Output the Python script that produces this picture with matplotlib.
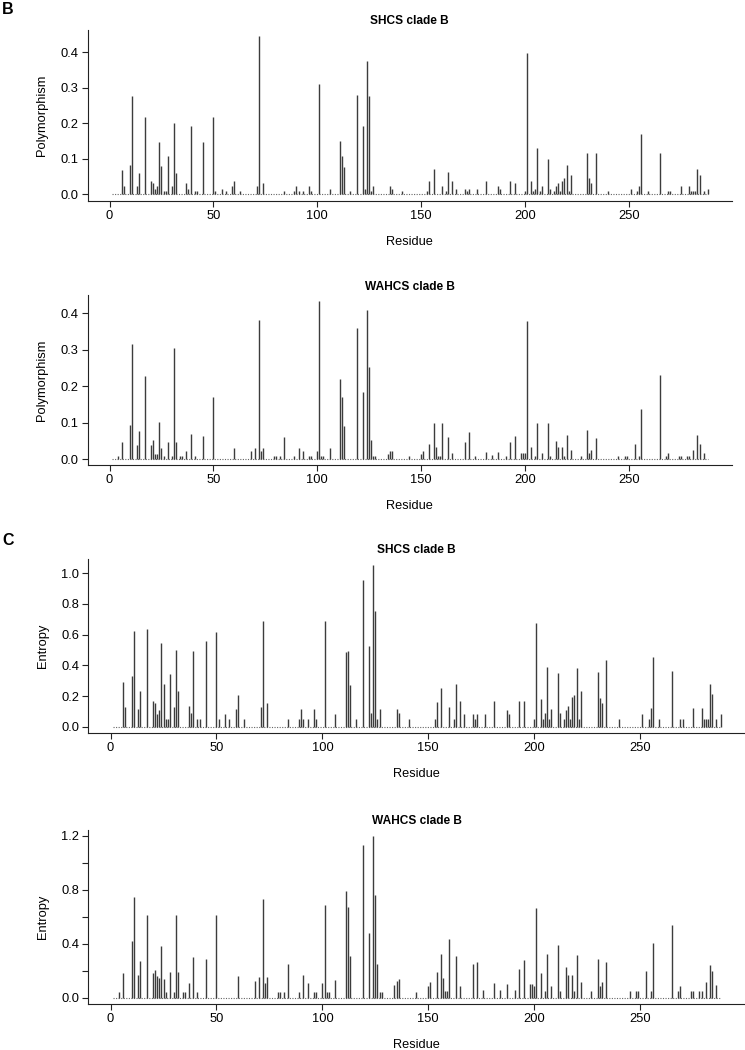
import numpy as np
import matplotlib
matplotlib.use('Agg')
import matplotlib.pyplot as plt

plt.rcParams['font.family'] = ['Liberation Sans', 'DejaVu Sans']

# residues with a non-zero value (shared by polymorphism and entropy of each cohort)
shcs_residues = [6, 7, 10, 11, 13, 14, 17, 20, 21, 22,
                 23, 24, 25, 26, 27, 28, 30, 31, 32, 37,
                 38, 39, 41, 42, 45, 50, 51, 54, 56, 59,
                 60, 63, 71, 72, 74, 84, 89, 90, 91, 93,
                 96, 97, 101, 106, 111, 112, 113, 116, 119, 122,
                 123, 124, 125, 126, 127, 135, 136, 141, 153, 154,
                 156, 160, 162, 163, 165, 167, 171, 172, 173, 177,
                 181, 187, 188, 193, 195, 200, 201, 203, 204, 205,
                 206, 207, 208, 211, 212, 214, 215, 216, 217, 218,
                 219, 220, 221, 222, 230, 231, 232, 234, 240, 251,
                 254, 255, 256, 259, 265, 269, 270, 275, 279, 280,
                 281, 282, 283, 284, 286, 288]

wahcs_residues = [4, 6, 10, 11, 13, 14, 17, 20, 21, 22,
                  23, 24, 25, 26, 28, 30, 31, 32, 34, 35,
                  37, 39, 41, 45, 50, 60, 68, 70, 72, 73,
                  74, 79, 80, 82, 84, 89, 91, 93, 96, 97,
                  100, 101, 102, 103, 106, 111, 112, 113, 119, 122,
                  124, 125, 126, 127, 128, 134, 135, 136, 144, 150,
                  151, 154, 156, 157, 158, 159, 160, 163, 165, 171,
                  173, 176, 181, 184, 187, 191, 193, 195, 198, 199,
                  200, 201, 203, 205, 206, 208, 211, 212, 215, 216,
                  218, 219, 220, 222, 227, 230, 231, 232, 234, 245,
                  248, 249, 253, 255, 256, 265, 268, 269, 274, 275,
                  278, 279, 281, 283, 284, 286]

shcs_poly = [0.068, 0.023, 0.083, 0.276, 0.023, 0.061, 0.218, 0.038, 0.031, 0.015,
             0.023, 0.146, 0.08, 0.008, 0.008, 0.108, 0.023, 0.2, 0.061, 0.031,
             0.015, 0.193, 0.008, 0.008, 0.146, 0.218, 0.008, 0.015, 0.008, 0.023,
             0.038, 0.008, 0.023, 0.445, 0.031, 0.008, 0.008, 0.023, 0.008, 0.008,
             0.023, 0.008, 0.31, 0.015, 0.15, 0.108, 0.078, 0.008, 0.278, 0.193,
             0.015, 0.375, 0.276, 0.008, 0.023, 0.023, 0.015, 0.008, 0.008, 0.038,
             0.07, 0.023, 0.008, 0.062, 0.038, 0.015, 0.015, 0.008, 0.015, 0.015,
             0.038, 0.023, 0.015, 0.038, 0.031, 0.008, 0.396, 0.038, 0.008, 0.015,
             0.129, 0.008, 0.023, 0.099, 0.015, 0.008, 0.023, 0.031, 0.008, 0.038,
             0.046, 0.083, 0.008, 0.054, 0.115, 0.046, 0.031, 0.115, 0.008, 0.015,
             0.008, 0.023, 0.17, 0.008, 0.115, 0.008, 0.008, 0.023, 0.023, 0.008,
             0.008, 0.008, 0.07, 0.054, 0.008, 0.015]

wahcs_poly = [0.008, 0.046, 0.093, 0.315, 0.038, 0.077, 0.229, 0.038, 0.053, 0.015,
              0.015, 0.102, 0.031, 0.008, 0.046, 0.008, 0.304, 0.046, 0.008, 0.008,
              0.023, 0.07, 0.008, 0.062, 0.169, 0.031, 0.023, 0.029, 0.381, 0.023,
              0.029, 0.008, 0.008, 0.008, 0.06, 0.008, 0.029, 0.023, 0.008, 0.008,
              0.023, 0.433, 0.008, 0.008, 0.029, 0.221, 0.169, 0.09, 0.361, 0.185,
              0.41, 0.254, 0.052, 0.008, 0.008, 0.015, 0.023, 0.023, 0.008, 0.015,
              0.023, 0.04, 0.1, 0.033, 0.008, 0.008, 0.1, 0.06, 0.017, 0.046,
              0.073, 0.008, 0.018, 0.01, 0.02, 0.008, 0.046, 0.063, 0.017, 0.017,
              0.017, 0.378, 0.032, 0.008, 0.098, 0.016, 0.1, 0.008, 0.05, 0.033,
              0.033, 0.008, 0.067, 0.025, 0.008, 0.081, 0.016, 0.024, 0.057, 0.008,
              0.008, 0.008, 0.041, 0.008, 0.137, 0.23, 0.008, 0.016, 0.008, 0.008,
              0.008, 0.008, 0.024, 0.066, 0.041, 0.016]

shcs_entropy = [0.289, 0.126, 0.33, 0.624, 0.113, 0.233, 0.635, 0.165, 0.152, 0.08,
                0.109, 0.543, 0.278, 0.048, 0.048, 0.341, 0.126, 0.5, 0.233, 0.137,
                0.091, 0.493, 0.048, 0.048, 0.557, 0.615, 0.048, 0.083, 0.048, 0.113,
                0.204, 0.048, 0.126, 0.687, 0.157, 0.048, 0.048, 0.113, 0.048, 0.048,
                0.113, 0.048, 0.691, 0.083, 0.487, 0.493, 0.274, 0.048, 0.957, 0.526,
                0.09, 1.054, 0.754, 0.048, 0.113, 0.113, 0.091, 0.048, 0.048, 0.163,
                0.254, 0.128, 0.048, 0.278, 0.165, 0.08, 0.08, 0.048, 0.08, 0.08,
                0.165, 0.109, 0.08, 0.165, 0.165, 0.048, 0.674, 0.183, 0.048, 0.091,
                0.387, 0.048, 0.113, 0.352, 0.091, 0.048, 0.109, 0.137, 0.048, 0.191,
                0.209, 0.38, 0.048, 0.235, 0.357, 0.187, 0.157, 0.435, 0.048, 0.08,
                0.048, 0.124, 0.457, 0.048, 0.361, 0.048, 0.048, 0.124, 0.124, 0.048,
                0.048, 0.048, 0.278, 0.211, 0.048, 0.08]

wahcs_entropy = [0.044, 0.185, 0.417, 0.743, 0.165, 0.269, 0.61, 0.18, 0.207, 0.16,
                 0.148, 0.385, 0.138, 0.044, 0.188, 0.044, 0.615, 0.188, 0.044, 0.044,
                 0.109, 0.299, 0.044, 0.286, 0.615, 0.16, 0.121, 0.153, 0.731, 0.109,
                 0.153, 0.044, 0.044, 0.044, 0.249, 0.044, 0.168, 0.109, 0.044, 0.044,
                 0.109, 0.686, 0.044, 0.044, 0.133, 0.788, 0.674, 0.306, 1.131, 0.479,
                 1.195, 0.763, 0.249, 0.044, 0.044, 0.091, 0.121, 0.136, 0.044, 0.084,
                 0.114, 0.193, 0.326, 0.146, 0.047, 0.047, 0.435, 0.306, 0.086, 0.247,
                 0.264, 0.054, 0.111, 0.057, 0.101, 0.054, 0.21, 0.279, 0.099, 0.099,
                 0.089, 0.664, 0.18, 0.047, 0.321, 0.086, 0.388, 0.047, 0.225, 0.165,
                 0.165, 0.047, 0.316, 0.116, 0.047, 0.284, 0.086, 0.116, 0.264, 0.047,
                 0.047, 0.047, 0.2, 0.047, 0.402, 0.541, 0.047, 0.084, 0.047, 0.047,
                 0.047, 0.047, 0.114, 0.242, 0.2, 0.094]

n_residues = 288

for name, r, v in [('shcs poly', shcs_residues, shcs_poly),
                   ('wahcs poly', wahcs_residues, wahcs_poly),
                   ('shcs entropy', shcs_residues, shcs_entropy),
                   ('wahcs entropy', wahcs_residues, wahcs_entropy)]:
    if len(r) != len(v):
        raise ValueError(name + ' length mismatch')

W, H = 745, 1050
fig = plt.figure(figsize=(W / 100, H / 100), dpi=100)


def px_axes(left, top, right, bottom):
    return fig.add_axes([left / W, 1 - bottom / H, (right - left) / W, (bottom - top) / H])


# (residues, values, title, ylabel, axes box in px, ylim, yticks, ytick labels)
panels = [
    (shcs_residues, shcs_poly, 'SHCS clade B', 'Polymorphism',
     (87.7, 29.7, 731.7, 200.6), (-0.0178, 0.4628),
     [0.0, 0.1, 0.2, 0.3, 0.4], ['0.0', '0.1', '0.2', '0.3', '0.4']),
    (wahcs_residues, wahcs_poly, 'WAHCS clade B', 'Polymorphism',
     (87.7, 295.1, 731.7, 465.3), (-0.0173, 0.4503),
     [0.0, 0.1, 0.2, 0.3, 0.4], ['0.0', '0.1', '0.2', '0.3', '0.4']),
    (shcs_residues, shcs_entropy, 'SHCS clade B', 'Entropy',
     (88.3, 558.5, 745, 733.2), (-0.0422, 1.0962),
     [0.0, 0.2, 0.4, 0.6, 0.8, 1.0], ['0.0', '0.2', '0.4', '0.6', '0.8', '1.0']),
    (wahcs_residues, wahcs_entropy, 'WAHCS clade B', 'Entropy',
     (88.3, 829.9, 745, 1004.2), (-0.0478, 1.2428),
     [0.0, 0.2, 0.4, 0.6, 0.8, 1.0, 1.2], ['0.0', '', '0.4', '', '0.8', '', '1.2']),
]

for res, vals, title, ylab, box, ylim, yt, ytl in panels:
    ax = px_axes(*box)
    # dotted baseline across all residues
    ax.plot([1, n_residues], [0, 0], color='#666666', lw=0.8, ls=(0, (1, 1.3)))
    ax.vlines(res, 0, vals, colors='#3c3c3c', lw=1.0)
    ax.set_xlim(-10.5, 299.5)
    ax.set_ylim(*ylim)
    ax.set_xticks([0, 50, 100, 150, 200, 250])
    ax.set_yticks(yt)
    ax.set_yticklabels(ytl)
    for s in ['top', 'right']:
        ax.spines[s].set_visible(False)
    for s in ['left', 'bottom']:
        ax.spines[s].set_linewidth(0.8)
        ax.spines[s].set_color('#222222')
    ax.tick_params(direction='out', length=4.5, width=0.8, labelsize=9.3,
                   color='#222222', pad=2)
    ax.set_title(title, fontsize=8.6, fontweight='bold', pad=4)
    ax.set_xlabel('Residue', fontsize=9.2, labelpad=10)
    ax.set_ylabel(ylab, fontsize=9.3, labelpad=9)

fig.text(2 / W, 1 - 14.5 / H, 'B', fontsize=11.5, fontweight='bold')
fig.text(2 / W, 1 - 545 / H, 'C', fontsize=11.5, fontweight='bold')

fig.savefig('out.png', dpi=100)
